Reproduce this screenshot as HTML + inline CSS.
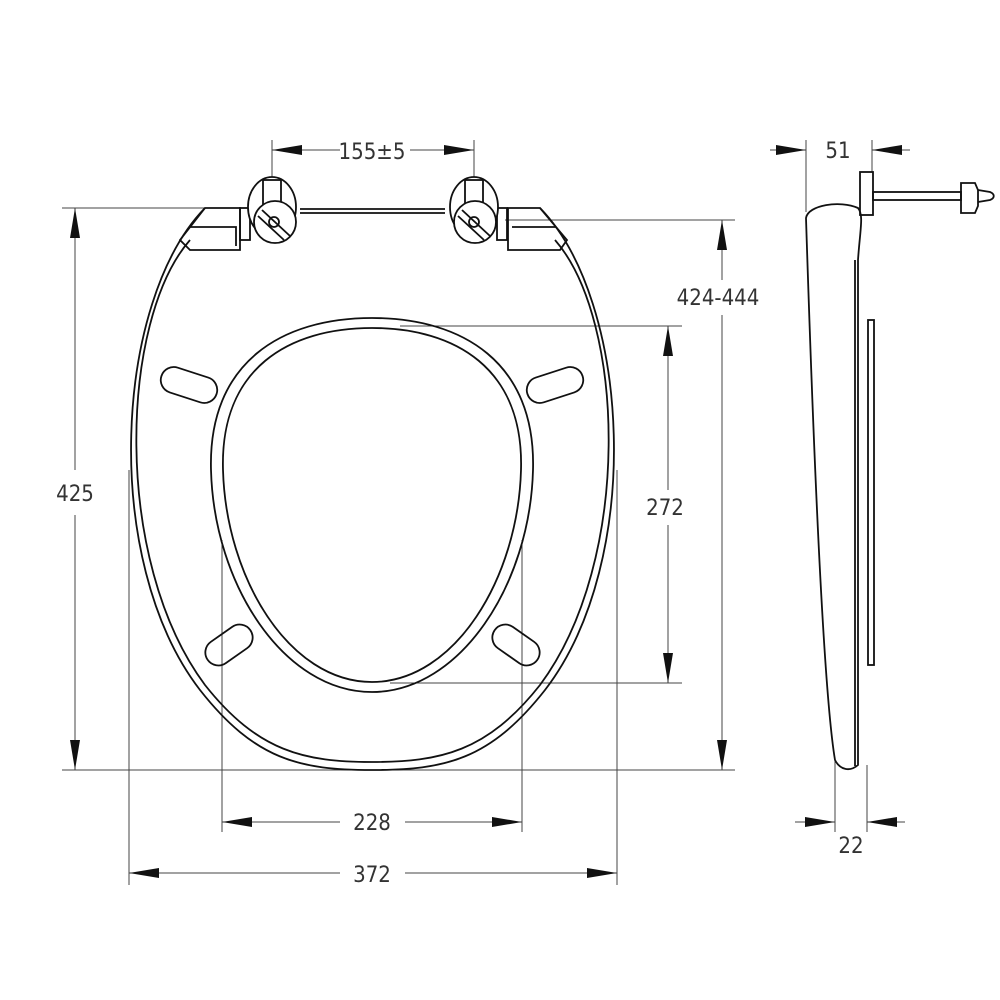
<!DOCTYPE html>
<html><head><meta charset="utf-8"><style>
html,body{margin:0;padding:0;background:#fff;}
svg{display:block}
text{font-family:"DejaVu Sans Condensed","Liberation Sans",sans-serif;font-size:22px;fill:#333}
</style></head><body>
<svg width="1000" height="1000" viewBox="0 0 1000 1000" xmlns="http://www.w3.org/2000/svg">
<defs>
<marker id="a" markerWidth="30" markerHeight="12" refX="30" refY="6" orient="auto" markerUnits="userSpaceOnUse">
<path d="M0,1 L30,6 L0,11 Z" fill="#111"/></marker>
</defs>
<g stroke="#444" stroke-width="1" fill="none">
<!-- extension lines -->
<line x1="272" y1="140" x2="272" y2="222"/>
<line x1="474" y1="140" x2="474" y2="222"/>
<line x1="62" y1="208" x2="205" y2="208"/>
<line x1="62" y1="770" x2="735" y2="770"/>
<line x1="505" y1="220" x2="735" y2="220"/>
<line x1="400" y1="326" x2="682" y2="326"/>
<line x1="390" y1="683" x2="682" y2="683"/>
<line x1="222" y1="540" x2="222" y2="832"/>
<line x1="522" y1="540" x2="522" y2="832"/>
<line x1="129" y1="470" x2="129" y2="885"/>
<line x1="617" y1="470" x2="617" y2="885"/>
<line x1="806" y1="140" x2="806" y2="212"/>
<line x1="872" y1="140" x2="872" y2="172"/>
<line x1="835" y1="760" x2="835" y2="832"/>
<line x1="867" y1="765" x2="867" y2="832"/>
<!-- dimension lines -->
<line x1="340" y1="150" x2="272" y2="150" marker-end="url(#a)"/>
<line x1="410" y1="150" x2="474" y2="150" marker-end="url(#a)"/>
<line x1="75" y1="470" x2="75" y2="208" marker-end="url(#a)"/>
<line x1="75" y1="515" x2="75" y2="770" marker-end="url(#a)"/>
<line x1="722" y1="280" x2="722" y2="220" marker-end="url(#a)"/>
<line x1="722" y1="315" x2="722" y2="770" marker-end="url(#a)"/>
<line x1="668" y1="490" x2="668" y2="326" marker-end="url(#a)"/>
<line x1="668" y1="525" x2="668" y2="683" marker-end="url(#a)"/>
<line x1="340" y1="822" x2="222" y2="822" marker-end="url(#a)"/>
<line x1="405" y1="822" x2="522" y2="822" marker-end="url(#a)"/>
<line x1="340" y1="873" x2="129" y2="873" marker-end="url(#a)"/>
<line x1="405" y1="873" x2="617" y2="873" marker-end="url(#a)"/>
<line x1="770" y1="150" x2="806" y2="150" marker-end="url(#a)"/>
<line x1="910" y1="150" x2="872" y2="150" marker-end="url(#a)"/>
<line x1="795" y1="822" x2="835" y2="822" marker-end="url(#a)"/>
<line x1="905" y1="822" x2="867" y2="822" marker-end="url(#a)"/>
</g>
<g text-anchor="middle">
<text x="372" y="159">155±5</text>
<text x="75" y="501">425</text>
<text x="718" y="305">424-444</text>
<text x="665" y="515">272</text>
<text x="372" y="830">228</text>
<text x="372" y="882">372</text>
<text x="838" y="158">51</text>
<text x="851" y="853">22</text>
</g>
<g stroke="#111" stroke-width="1.8" fill="none">
<!-- seat outer -->
<path d="M205,208 C115,300 100,560 200,690 C255,760 300,770 372,770 C445,770 490,760 545,690 C645,560 630,300 540,208"/>
<path d="M190,240 C120,320 112,560 205,685 C258,752 305,762 372,762 C440,762 487,752 540,685 C633,560 625,320 555,240"/>
<!-- hinge blocks -->
<path d="M205,208 L240,208 L240,250 L190,250 L180,240 Z"/>
<path d="M190,227 L236,227 L236,246"/>
<path d="M540,208 L508,208 L508,250 L560,250 L567,240 Z"/>
<path d="M512,227 L556,227"/>
<rect x="240" y="208" width="10" height="32"/>
<rect x="497" y="208" width="10" height="32"/>
<!-- ring -->
<path d="M372,318 C462,318 536,362 533,470 C530,585 460,692 372,692 C284,692 214,585 211,470 C208,362 282,318 372,318 Z"/>
<path d="M372,328 C455,328 524,368 521,470 C518,578 455,682 372,682 C289,682 226,578 223,470 C220,368 289,328 372,328 Z"/>
<!-- slots -->
<rect x="160" y="372" width="58" height="26" rx="13" transform="rotate(18 189 385)"/>
<rect x="526" y="372" width="58" height="26" rx="13" transform="rotate(-18 555 385)"/>
<rect x="203" y="632" width="52" height="26" rx="13" transform="rotate(-35 229 645)"/>
<rect x="490" y="632" width="52" height="26" rx="13" transform="rotate(35 516 645)"/>
<!-- hinges -->
<line x1="300" y1="209" x2="445" y2="209"/>
<line x1="300" y1="213" x2="445" y2="213"/>
<ellipse cx="272" cy="207" rx="24" ry="30" fill="#fff"/>
<ellipse cx="474" cy="207" rx="24" ry="30" fill="#fff"/>
<rect x="263" y="180" width="18" height="26"/>
<rect x="465" y="180" width="18" height="26"/>
<circle cx="275" cy="222" r="21" fill="#fff"/>
<circle cx="475" cy="222" r="21" fill="#fff"/>
<path d="M262,210 L290,236 M258,216 L284,240"/>
<path d="M462,210 L490,236 M458,216 L484,240"/>
<circle cx="274" cy="222" r="5"/>
<circle cx="474" cy="222" r="5"/>
<!-- side view -->
<path d="M806,218 C808,205 840,200 858,208 C864,215 860,230 858,260 L858,765 C850,772 840,770 835,760 C825,700 815,500 806,218 Z"/>
<path d="M855,260 L855,766"/>
<rect x="860" y="172" width="13" height="43"/>
<rect x="868" y="320" width="6" height="345"/>
<rect x="873" y="192" width="88" height="8"/>
<path d="M961,183 L975,183 L978,190 L978,206 L975,213 L961,213 Z"/>
<path d="M978,190 L990,192 C995,194 995,198 990,200 L978,202"/>
</g>
</svg>
</body></html>
